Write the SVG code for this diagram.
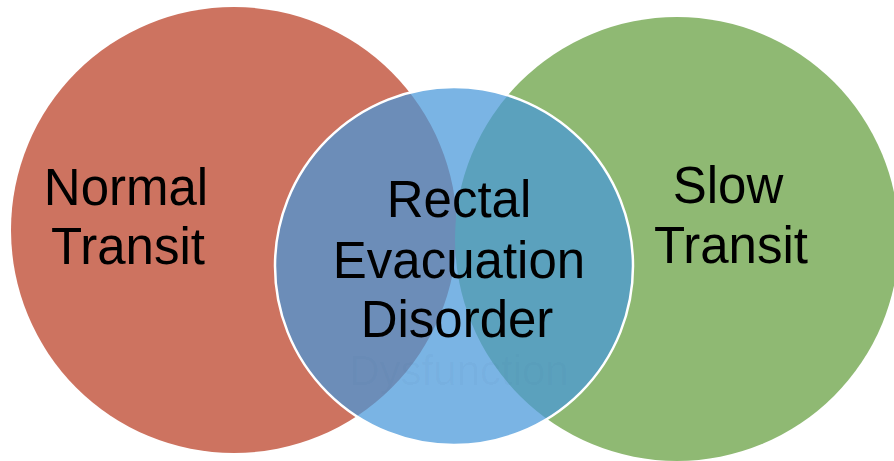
<svg xmlns="http://www.w3.org/2000/svg" width="894" height="461" viewBox="0 0 894 461">
<style>
.lbl{font-family:"Liberation Sans",Arial,sans-serif;font-size:51px;fill:#000;text-anchor:middle}
.faint{font-family:"Liberation Sans",Arial,sans-serif;font-size:42px;fill:#1f4f80;fill-opacity:0.035;text-anchor:middle}
</style>
<rect width="894" height="461" fill="#ffffff"/>
<g id="normal-transit">
<circle cx="234" cy="230" r="223" fill="#CD7360"/>
</g>
<g id="slow-transit">
<circle cx="677" cy="239" r="222" fill="#8FB973"/>
</g>
<g id="rectal-evacuation-disorder">
<circle cx="454" cy="266" r="179" fill="#4697D9" fill-opacity="0.72" stroke="#ffffff" stroke-width="2.5"/>
<text class="faint" x="459" y="385">Dysfunction</text>
</g>
<g id="labels">
<text class="lbl" x="126" y="205">Normal</text>
<text class="lbl" x="128" y="264">Transit</text>
<text class="lbl" x="459" y="217">Rectal</text>
<text class="lbl" x="459" y="278">Evacuation</text>
<text class="lbl" x="457" y="337">Disorder</text>
<text class="lbl" x="728" y="203">Slow</text>
<text class="lbl" x="731" y="263">Transit</text>
</g>
<g id="connectors"></g>
</svg>
